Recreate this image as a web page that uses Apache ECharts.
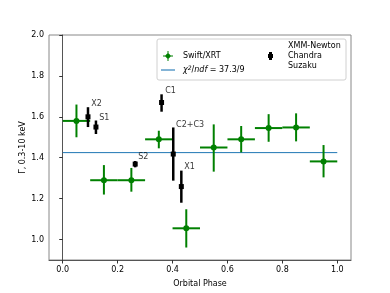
<!DOCTYPE html>
<html>
<head>
<meta charset="utf-8">
<script src="https://cdn.jsdelivr.net/npm/echarts@6/dist/echarts.min.js"></script>
<style>html,body{margin:0;padding:0;background:#fff}#c{width:390px;height:293px}</style>
</head>
<body>
<div id="c"></div>
<script>
// Swift/XRT data
const swiftPhase = [0.05, 0.15, 0.25, 0.35, 0.45, 0.55, 0.65, 0.75, 0.85, 0.95];
const swiftPhaseErr = [0.05, 0.05, 0.05, 0.05, 0.05, 0.05, 0.05, 0.05, 0.05, 0.05];
const swiftGamma = [1.58, 1.29, 1.29, 1.49, 1.055, 1.45, 1.49, 1.545, 1.548, 1.382];
const swiftLo = [1.50, 1.22, 1.234, 1.446, 0.961, 1.332, 1.426, 1.478, 1.48, 1.304];
const swiftHi = [1.66, 1.364, 1.35, 1.532, 1.148, 1.563, 1.555, 1.613, 1.617, 1.462];
// XMM-Newton / Chandra / Suzaku data
const obsNames = ['X2', 'S1', 'C1', 'C2+C3', 'X1', 'S2'];
const obsPhase = [0.092, 0.121, 0.36, 0.4026, 0.432, 0.264];
const obsGamma = [1.60, 1.55, 1.67, 1.418, 1.259, 1.369];
const obsLo = [1.55, 1.516, 1.625, 1.288, 1.18, 1.353];
const obsHi = [1.647, 1.582, 1.71, 1.548, 1.337, 1.384];
const obsLabelPhase = [0.104, 0.133, 0.373, 0.413, 0.443, 0.275];
const obsLabelGamma = [1.662, 1.596, 1.727, 1.56, 1.353, 1.405];
// constant fit
const fitPhase = [0.0, 1.0];
const fitGamma = [1.425, 1.425];
// ticks
const xTicks = [0.0, 0.2, 0.4, 0.6, 0.8, 1.0];
const yTicks = [1.0, 1.2, 1.4, 1.6, 1.8, 2.0];

const FONT = 'DejaVu Sans';
const GREEN = '#008000';

const chart = echarts.init(document.getElementById('c'), null, {renderer: 'canvas'});

function renderSwift(params, api) {
  const x = api.value(0), y = api.value(1), xe = api.value(2), lo = api.value(3), hi = api.value(4);
  const c = api.coord([x, y]);
  const l = api.coord([x - xe, y]);
  const r = api.coord([x + xe, y]);
  const t = api.coord([x, hi]);
  const b = api.coord([x, lo]);
  return {type: 'group', children: [
    {type: 'line', shape: {x1: l[0], y1: l[1], x2: r[0], y2: r[1]}, style: {stroke: GREEN, lineWidth: 2}},
    {type: 'line', shape: {x1: t[0], y1: t[1], x2: b[0], y2: b[1]}, style: {stroke: GREEN, lineWidth: 2}},
    {type: 'circle', shape: {cx: c[0], cy: c[1], r: 3}, style: {fill: GREEN}}
  ]};
}
function renderObs(params, api) {
  const x = api.value(0), y = api.value(1), lo = api.value(2), hi = api.value(3);
  const c = api.coord([x, y]);
  const t = api.coord([x, hi]);
  const b = api.coord([x, lo]);
  return {type: 'group', children: [
    {type: 'line', shape: {x1: t[0], y1: t[1], x2: b[0], y2: b[1]}, style: {stroke: '#000', lineWidth: 2.5}},
    {type: 'rect', shape: {x: c[0] - 2.5, y: c[1] - 2.5, width: 5, height: 5}, style: {fill: '#000'}}
  ]};
}

const swiftData = swiftPhase.map((p, i) => [p, swiftGamma[i], swiftPhaseErr[i], swiftLo[i], swiftHi[i]]);
const obsData = obsPhase.map((p, i) => [p, obsGamma[i], obsLo[i], obsHi[i]]);
const labelData = obsNames.map((n, i) => ({value: [obsLabelPhase[i], obsLabelGamma[i]], name: n}));
const fitData = fitPhase.map((p, i) => [p, fitGamma[i]]);

const fmt = v => Number(v).toFixed(1);

const option = {
  animation: false,
  backgroundColor: '#fff',
  textStyle: {fontFamily: FONT},
  grid: {left: 49, right: 39, top: 35, bottom: 33, show: true, borderColor: '#888', borderWidth: 1, backgroundColor: 'transparent'},
  xAxis: {
    type: 'value', min: -0.05, max: 1.05,
    name: 'Orbital Phase', nameLocation: 'middle', nameGap: 20, nameMoveOverlap: false,
    nameTextStyle: {fontFamily: FONT, fontSize: 8, color: '#000'},
    axisLine: {show: true, lineStyle: {color: '#555', width: 1}},
    axisTick: {show: true, length: 3.5, lineStyle: {color: '#333'}, customValues: xTicks},
    axisLabel: {fontFamily: FONT, fontSize: 8, color: '#000', margin: 6, formatter: fmt, customValues: xTicks},
    splitLine: {show: false}
  },
  yAxis: {
    type: 'value', min: 0.9, max: 2.0,
    name: 'Γ, 0.3-10 keV', nameLocation: 'middle', nameGap: 22, nameRotate: 90, nameMoveOverlap: false,
    nameTextStyle: {fontFamily: FONT, fontSize: 8, color: '#000'},
    axisLine: {show: true, lineStyle: {color: '#555', width: 1}},
    axisTick: {show: true, length: 3.5, lineStyle: {color: '#333'}, customValues: yTicks},
    axisLabel: {fontFamily: FONT, fontSize: 8, color: '#000', margin: 5, formatter: fmt, customValues: yTicks},
    splitLine: {show: false}
  },
  graphic: [{
    type: 'rect', z: 50, shape: {x: 157, y: 39, width: 189, height: 41, r: 2},
    style: {fill: 'rgba(255,255,255,0.85)', stroke: '#d0d0d0', lineWidth: 1}
  }],
  legend: [{
    z: 60, orient: 'vertical', left: 161, top: 51, itemWidth: 14, itemHeight: 10, itemGap: 4,
    padding: 0, selectedMode: false,
    textStyle: {fontFamily: FONT, fontSize: 8, color: '#000', padding: [0, 0, 0, 3],
      rich: {i: {fontFamily: FONT, fontSize: 8, fontStyle: 'italic', color: '#000'},
             s: {fontFamily: FONT, fontSize: 6, fontStyle: 'italic', color: '#000', verticalAlign: 'top', padding: [0, 0, 4, 0]},
             n: {fontFamily: FONT, fontSize: 8, color: '#000'}}},
    formatter: name => name === 'Swift/XRT' ? name : '{i|χ}{s|2}{n|/}{i|ndf}{n| = 37.3/9}',
    data: [
      {name: 'Swift/XRT', icon: 'path://M0,4.5H10V5.5H0Z M4.5,0H5.5V10H4.5Z M5,1.8L8.2,5L5,8.2L1.8,5Z', itemStyle: {color: GREEN}},
      {name: 'fit', icon: 'path://M0,0H14V1.1H0Z', itemStyle: {color: '#1f77b4'}}
    ]
  }, {
    z: 60, orient: 'vertical', left: 268, top: 41, itemWidth: 5, itemHeight: 8, padding: 0, selectedMode: false,
    textStyle: {fontFamily: FONT, fontSize: 8, color: '#000', lineHeight: 10, padding: [0, 0, 0, 10]},
    data: [{name: 'XMM-Newton\nChandra\nSuzaku', icon: 'path://M1,0H4V8H1Z M0,2H5V6H0Z', itemStyle: {color: '#000'}}]
  }],
  series: [
    {name: 'fit', type: 'line', data: fitData, symbol: 'none', lineStyle: {color: '#1f77b4', width: 1}, itemStyle: {color: '#1f77b4'}, z: 2},
    {name: 'Swift/XRT', type: 'custom', renderItem: renderSwift, data: swiftData, itemStyle: {color: GREEN}, z: 3},
    {name: 'XMM-Newton\nChandra\nSuzaku', type: 'custom', renderItem: renderObs, data: obsData, itemStyle: {color: '#000'}, z: 4},
    {name: 'labels', type: 'scatter', data: labelData, symbolSize: 0, z: 5, itemStyle: {color: '#000'},
      label: {show: true, position: [0, 0], align: 'left', verticalAlign: 'middle', formatter: p => p.name,
        fontFamily: FONT, fontSize: 8, color: '#000', textBorderWidth: 0}}
  ]
};
chart.setOption(option);
</script>
</body>
</html>
